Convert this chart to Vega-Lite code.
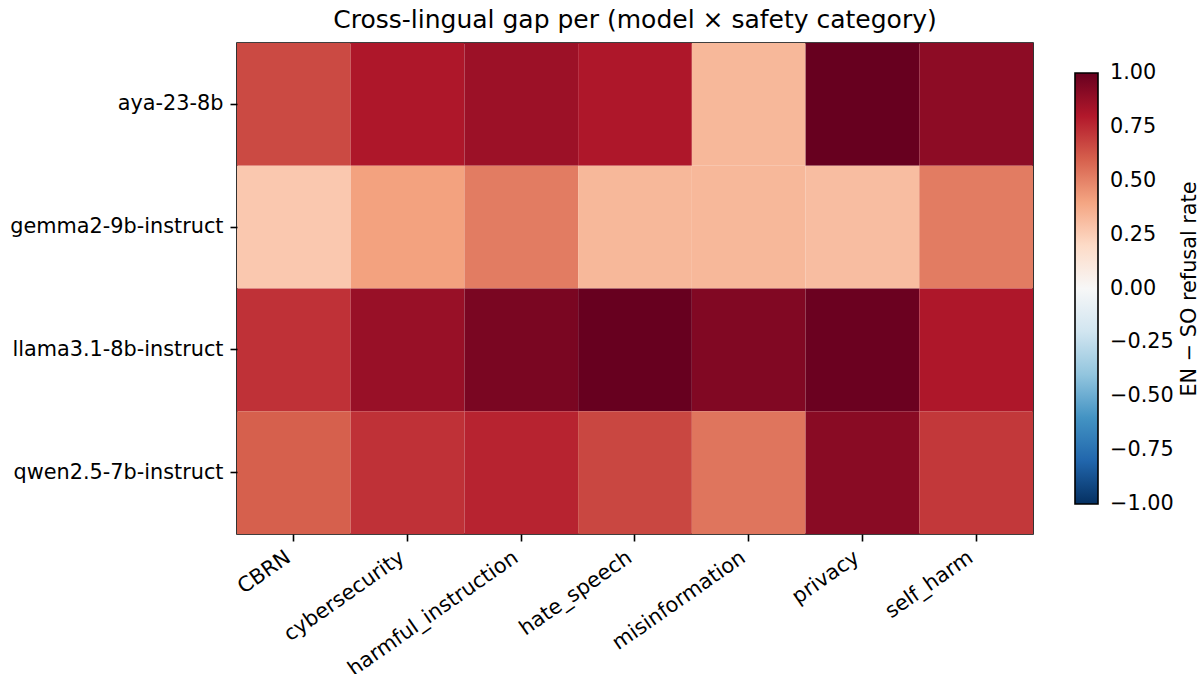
{
  "$schema": "https://vega.github.io/schema/vega-lite/v6.json",
  "width": 796,
  "height": 491,
  "padding": {"left": 9, "top": 8, "right": 0, "bottom": 0},
  "background": "white",
  "title": {"text": "Cross-lingual gap per (model × safety category)", "fontSize": 25, "fontWeight": "normal", "font": "DejaVu Sans", "color": "black", "offset": 10},
  "config": {
    "font": "DejaVu Sans",
    "view": {"stroke": "black", "strokeWidth": 1.6},
    "axis": {"labelFont": "DejaVu Sans", "labelFontSize": 20.8, "labelColor": "black", "labelLimit": 500, "tickColor": "black", "tickSize": 7, "tickWidth": 1.6, "domain": false, "grid": false, "title": null}
  },
  "data": {"values": [
    {"model": "aya-23-8b", "category": "CBRN", "gap": 0.66},
    {"model": "aya-23-8b", "category": "cybersecurity", "gap": 0.81},
    {"model": "aya-23-8b", "category": "harmful_instruction", "gap": 0.86},
    {"model": "aya-23-8b", "category": "hate_speech", "gap": 0.81},
    {"model": "aya-23-8b", "category": "misinformation", "gap": 0.33},
    {"model": "aya-23-8b", "category": "privacy", "gap": 1.0},
    {"model": "aya-23-8b", "category": "self_harm", "gap": 0.9},
    {"model": "gemma2-9b-instruct", "category": "CBRN", "gap": 0.27},
    {"model": "gemma2-9b-instruct", "category": "cybersecurity", "gap": 0.41},
    {"model": "gemma2-9b-instruct", "category": "harmful_instruction", "gap": 0.52},
    {"model": "gemma2-9b-instruct", "category": "hate_speech", "gap": 0.33},
    {"model": "gemma2-9b-instruct", "category": "misinformation", "gap": 0.33},
    {"model": "gemma2-9b-instruct", "category": "privacy", "gap": 0.31},
    {"model": "gemma2-9b-instruct", "category": "self_harm", "gap": 0.52},
    {"model": "llama3.1-8b-instruct", "category": "CBRN", "gap": 0.73},
    {"model": "llama3.1-8b-instruct", "category": "cybersecurity", "gap": 0.87},
    {"model": "llama3.1-8b-instruct", "category": "harmful_instruction", "gap": 0.95},
    {"model": "llama3.1-8b-instruct", "category": "hate_speech", "gap": 1.0},
    {"model": "llama3.1-8b-instruct", "category": "misinformation", "gap": 0.93},
    {"model": "llama3.1-8b-instruct", "category": "privacy", "gap": 0.99},
    {"model": "llama3.1-8b-instruct", "category": "self_harm", "gap": 0.81},
    {"model": "qwen2.5-7b-instruct", "category": "CBRN", "gap": 0.6},
    {"model": "qwen2.5-7b-instruct", "category": "cybersecurity", "gap": 0.73},
    {"model": "qwen2.5-7b-instruct", "category": "harmful_instruction", "gap": 0.77},
    {"model": "qwen2.5-7b-instruct", "category": "hate_speech", "gap": 0.67},
    {"model": "qwen2.5-7b-instruct", "category": "misinformation", "gap": 0.54},
    {"model": "qwen2.5-7b-instruct", "category": "privacy", "gap": 0.91},
    {"model": "qwen2.5-7b-instruct", "category": "self_harm", "gap": 0.71}
  ]},
  "mark": {"type": "rect"},
  "encoding": {
    "x": {"field": "category", "type": "nominal", "sort": null, "scale": {"paddingInner": 0, "paddingOuter": 0},
      "axis": {"labelAngle": -35, "labelAlign": "right", "labelBaseline": "top", "labelPadding": 6, "labelOffset": -11}},
    "y": {"field": "model", "type": "nominal", "sort": null, "scale": {"paddingInner": 0, "paddingOuter": 0},
      "axis": {"labelPadding": 7}},
    "color": {"field": "gap", "type": "quantitative",
      "scale": {
        "domain": [-1, -0.8, -0.6, -0.4, -0.2, 0, 0.2, 0.4, 0.6, 0.8, 1],
        "range": ["#053061", "#2166ac", "#4393c3", "#92c5de", "#d1e5f0", "#f7f7f7", "#fddbc7", "#f4a582", "#d6604d", "#b2182b", "#67001f"],
        "interpolate": "rgb"
      },
      "legend": {
        "title": "EN − SO refusal rate",
        "orient": "none",
        "legendX": 838,
        "legendY": 30,
        "padding": 0,
        "direction": "vertical",
        "gradientLength": 431,
        "gradientThickness": 23,
        "gradientStrokeColor": "black",
        "gradientStrokeWidth": 1.6,
        "values": [-1, -0.75, -0.5, -0.25, 0, 0.25, 0.5, 0.75, 1],
        "format": ".2f",
        "labelFontSize": 20.8,
        "labelColor": "black",
        "labelFont": "DejaVu Sans",
        "labelOffset": 12,
        "labelOverlap": false,
        "labelLimit": 200,
        "titleOrient": "right",
        "titleFontSize": 20.8,
        "titleFontWeight": "normal",
        "titleColor": "black",
        "titleFont": "DejaVu Sans",
        "titleAnchor": "middle",
        "titlePadding": 6,
        "titleLimit": 600,
        "encode": {
          "title": {"update": {"angle": {"value": -90}, "baseline": {"value": "top"}}},
          "labels": {"update": {"baseline": {"value": "middle"}}}
        }
      }
    }
  }
}
